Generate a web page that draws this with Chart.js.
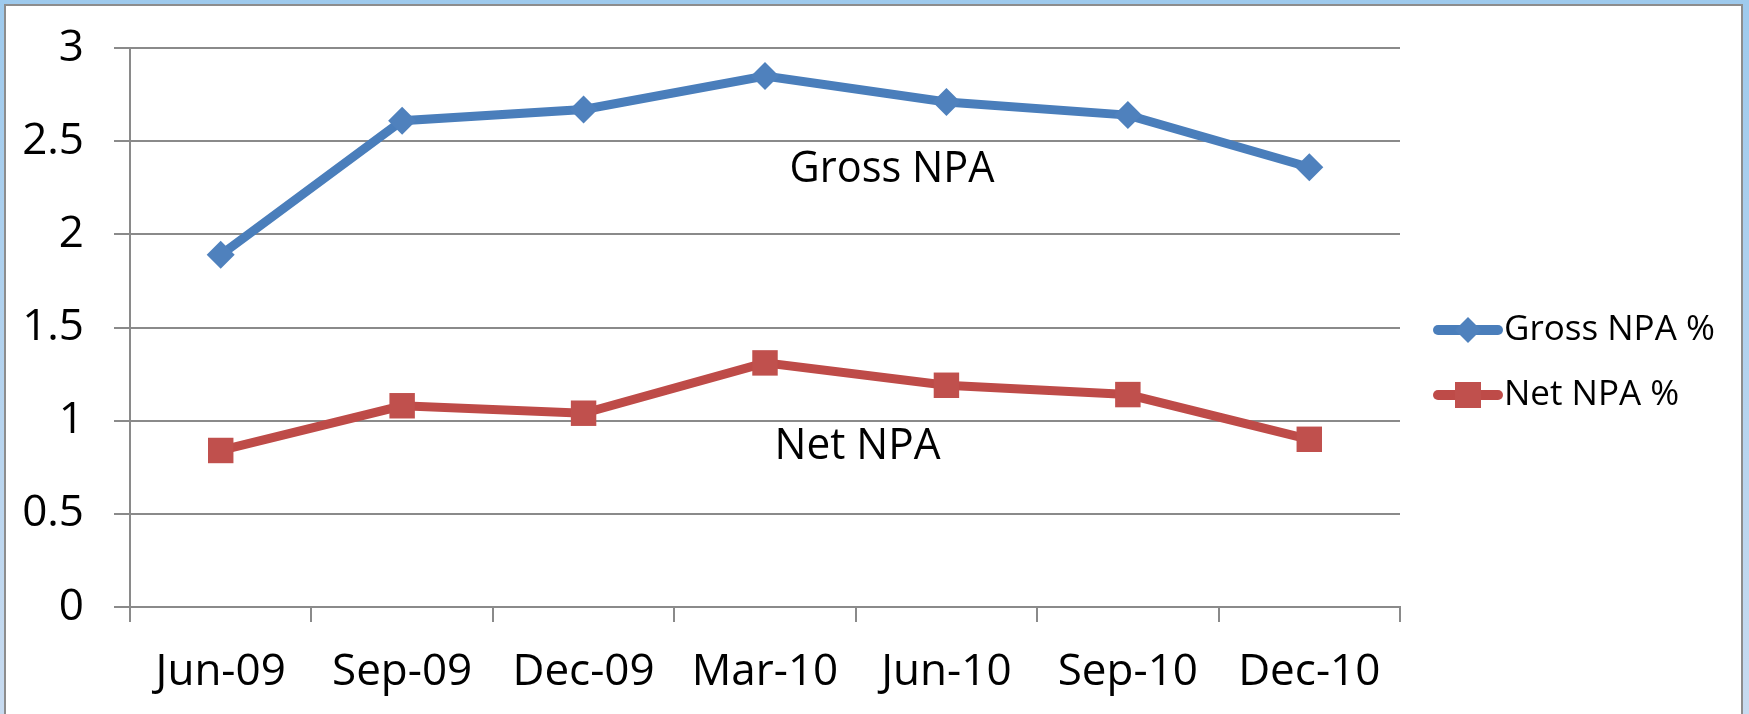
<!DOCTYPE html>
<html>
<head>
<meta charset="utf-8">
<script src="https://cdn.jsdelivr.net/npm/chart.js@4/dist/chart.umd.min.js"></script>
<style>
  html, body { margin: 0; padding: 0; }
  body {
    width: 1749px; height: 714px; overflow: hidden;
    background: linear-gradient(to bottom, #9ecaed, #c8dbf0);
    position: relative;
  }
  #frame {
    position: absolute; left: 4px; top: 4px;
    width: 1735px; height: 716px;
    border: 2px solid #8d8d8d; border-bottom: none;
    background: #fff;
  }
  #chart { display: block; }
</style>
</head>
<body>
<div id="frame"><canvas id="chart" width="1735" height="708"></canvas></div>
<script>
/* global Chart */

const quarters = ['Jun-09', 'Sep-09', 'Dec-09', 'Mar-10', 'Jun-10', 'Sep-10', 'Dec-10'];
const grossNpa = [1.89, 2.61, 2.67, 2.85, 2.71, 2.64, 2.36];
const netNpa = [0.84, 1.08, 1.04, 1.31, 1.19, 1.14, 0.90];
const yTicks = [0, 0.5, 1, 1.5, 2, 2.5, 3];

// in-plot text labels: [text, category position, value]
const noteText = ['Gross NPA', 'Net NPA'];
const notePos = [3.70, 3.51];
const noteVal = [2.35, 0.86];

const FONT = '"Open Sans", "Noto Sans", sans-serif';
const GRID = '#8a8a8a';

function diamond(ctx, x, y, r) {
  ctx.beginPath();
  ctx.moveTo(x, y - r);
  ctx.lineTo(x + r, y);
  ctx.lineTo(x, y + r);
  ctx.lineTo(x - r, y);
  ctx.closePath();
  ctx.fill();
}

// texts written inside the plot
const notesPlugin = {
  id: 'notes',
  afterDatasetsDraw(chart) {
    const xs = chart.scales.x, ys = chart.scales.y;
    const ctx = chart.ctx;
    const widths = [205, 166];
    ctx.save();
    ctx.fillStyle = '#000';
    ctx.textAlign = 'center';
    ctx.textBaseline = 'middle';
    ctx.font = '44px ' + FONT;
    noteText.forEach((t, i) => {
      ctx.fillText(t, xs.getPixelForValue(notePos[i]), ys.getPixelForValue(noteVal[i]), widths[i]);
    });
    ctx.restore();
  }
};

// legend on the right: line + marker + label
const legendPlugin = {
  id: 'sideLegend',
  afterDraw(chart) {
    const ctx = chart.ctx;
    const x0 = 1432, x1 = 1492;
    const rows = [324, 389];
    ctx.save();
    chart.data.datasets.forEach((ds, i) => {
      const y = rows[i];
      const mid = (x0 + x1) / 2;
      ctx.strokeStyle = ds.borderColor;
      ctx.lineWidth = 10;
      ctx.lineCap = 'round';
      ctx.beginPath();
      ctx.moveTo(x0, y);
      ctx.lineTo(x1, y);
      ctx.stroke();
      ctx.fillStyle = ds.pointBackgroundColor;
      if (ds.pointStyle === 'rectRot') diamond(ctx, mid, y, 13);
      else ctx.fillRect(mid - 13, y - 13, 26, 26);
      ctx.fillStyle = '#000';
      ctx.font = '35px ' + FONT;
      ctx.textAlign = 'left';
      ctx.textBaseline = 'middle';
      ctx.fillText(ds.label, x1 + 6, y);
    });
    ctx.restore();
  }
};

new Chart(document.getElementById('chart'), {
  type: 'line',
  data: {
    labels: quarters,
    datasets: [
      {
        label: 'Gross NPA %',
        data: grossNpa,
        borderColor: '#4a7ebb',
        backgroundColor: '#4f81bd',
        pointBackgroundColor: '#4f81bd',
        pointBorderColor: '#4f81bd',
        pointBorderWidth: 0,
        pointStyle: 'rectRot',
        pointRadius: 14,
        borderWidth: 9,
        tension: 0
      },
      {
        label: 'Net NPA %',
        data: netNpa,
        borderColor: '#be4b48',
        backgroundColor: '#c0504d',
        pointBackgroundColor: '#c0504d',
        pointBorderColor: '#c0504d',
        pointBorderWidth: 0,
        pointStyle: 'rect',
        pointRadius: 18,
        borderWidth: 9,
        tension: 0
      }
    ]
  },
  options: {
    responsive: false,
    animation: false,
    layout: { padding: { left: 0, right: 341, top: 42, bottom: 0 } },
    scales: {
      x: {
        offset: true,
        afterFit(scale) { scale.height = 107; },
        grid: { offset: true, drawOnChartArea: false, color: GRID, lineWidth: 2, tickLength: 15 },
        border: { display: true, color: GRID, width: 2 },
        ticks: { color: '#000', padding: 24, font: { family: FONT, size: 44 }, maxRotation: 0 }
      },
      y: {
        min: 0,
        max: 3,
        afterFit(scale) {
          scale.width = 124;
          // labels fit inside the outer padding already
          scale.paddingTop = 0;
          scale.paddingBottom = 0;
        },
        afterBuildTicks(scale) { scale.ticks = yTicks.map(v => ({ value: v })); },
        grid: { color: GRID, lineWidth: 2, tickLength: 16 },
        border: { display: true, color: GRID, width: 2 },
        ticks: {
          color: '#000', padding: 30, font: { family: FONT, size: 44 },
          callback: (v) => String(v)
        }
      }
    },
    plugins: {
      legend: { display: false },
      tooltip: { enabled: false }
    }
  },
  plugins: [notesPlugin, legendPlugin]
});
</script>
</body>
</html>
